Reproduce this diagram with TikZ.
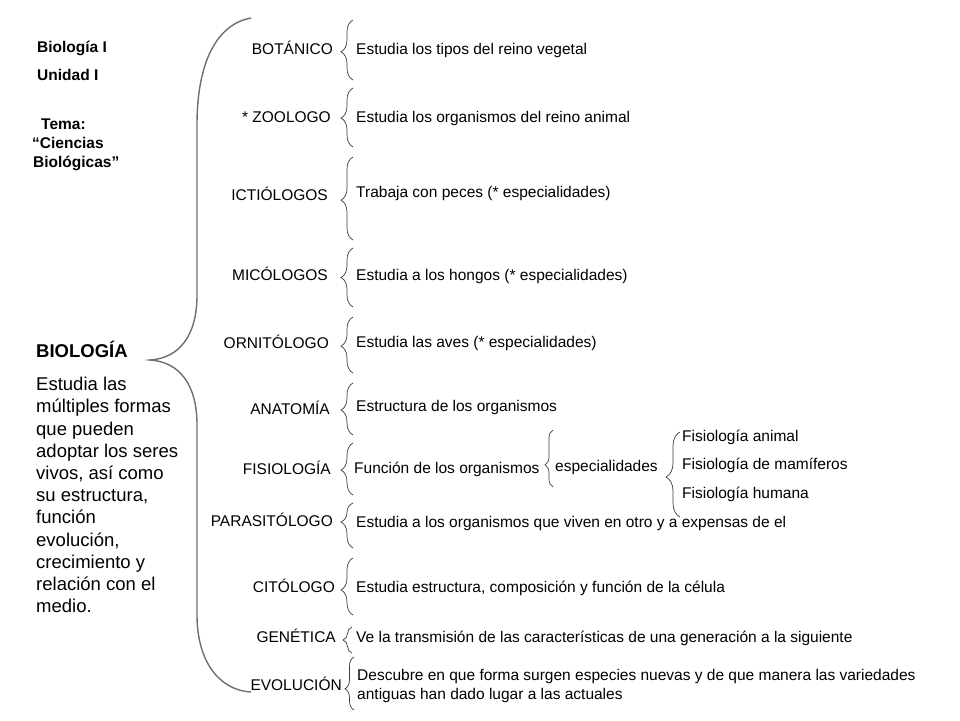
\documentclass[tikz,border=0pt]{standalone}
\usepackage{fontspec}
\setmainfont{Liberation Sans}
\usetikzlibrary{decorations.pathreplacing}
\definecolor{bracegray}{RGB}{110,110,110}
\definecolor{smallbr}{RGB}{60,60,60}
\begin{document}
\begin{tikzpicture}[x=1pt,y=-1pt,
  txt/.style={inner sep=0pt, font=\fontsize{15.5}{18}\selectfont, text height=11pt, text depth=3pt},
  lab/.style={txt, anchor=east},
  desc/.style={txt, anchor=west},
  ttl/.style={inner sep=0pt, anchor=west, font=\fontsize{15.5}{18}\selectfont\bfseries, text height=11pt, text depth=3pt},
  br/.style={draw=smallbr, line width=0.7pt, decorate, decoration={brace, amplitude=#1}},
  br/.default=12pt,
  bigbrace/.style={draw=bracegray, line width=1.4pt}
]
\useasboundingbox (0,0) rectangle (960,720);

% top-left title
\node[ttl] (t1) at (37,48) {Biología I};
\node[ttl] (t2) at (37,76) {Unidad I};
\node[ttl] (t3) at (41,125) {Tema:};
\node[ttl] (t4) at (32,144) {“Ciencias};
\node[ttl] (t5) at (33,163) {Biológicas”};

% BIOLOGIA
\node[inner sep=0pt, anchor=west, font=\fontsize{18.5}{22}\selectfont\bfseries, text height=13pt, text depth=4pt] (bio) at (36,353) {BIOLOGÍA};
\node[inner sep=0pt, anchor=north west, align=left, font=\fontsize{18.5}{22.2}\selectfont] (biotxt) at (36,377)
 {Estudia las\\múltiples formas\\que pueden\\adoptar los seres\\vivos, así como\\su estructura,\\función\\evolución,\\crecimiento y\\relación con el\\medio.};

% big brace
\coordinate (bbtop) at (251,18);
\coordinate (bbtip) at (150,360);
\coordinate (bbbot) at (251,692);
\draw[bigbrace] (bbtop) .. controls (218,24) and (197,60) .. (197,125)
  -- (197,295) .. controls (197,335) and (180,358) .. (bbtip)
  .. controls (180,362) and (197,385) .. (197,425)
  -- (197,615) .. controls (197,660) and (218,690) .. (bbbot);

% labels
\node[lab] (l1) at (333,50) {BOTÁNICO};
\node[lab] (l2) at (331,118) {* ZOOLOGO};
\node[lab] (l3) at (328,196) {ICTIÓLOGOS};
\node[lab] (l4) at (328,276) {MICÓLOGOS};
\node[lab] (l5) at (329,344) {ORNITÓLOGO};
\node[lab] (l6) at (330,410) {ANATOMÍA};
\node[lab] (l7) at (331,470) {FISIOLOGÍA};
\node[lab] (l8) at (333,522) {PARASITÓLOGO};
\node[lab] (l9) at (335,588) {CITÓLOGO};
\node[lab] (l10) at (336,638) {GENÉTICA};
\node[lab] (l11) at (342,686) {EVOLUCIÓN};

% descriptions
\node[desc] (d1) at (356,50) {Estudia los tipos del reino vegetal};
\node[desc] (d2) at (356,118) {Estudia los organismos del reino animal};
\node[desc] (d3) at (356,193) {Trabaja con peces (* especialidades)};
\node[desc] (d4) at (356,276) {Estudia a los hongos (* especialidades)};
\node[desc] (d5) at (356,343) {Estudia las aves (* especialidades)};
\node[desc] (d6) at (356,407) {Estructura de los organismos};
\node[desc] (d7) at (354,469) {Función de los organismos};
\node[desc] (d8) at (356,523) {Estudia a los organismos que viven en otro y a expensas de el};
\node[desc] (d9) at (356,588) {Estudia estructura, composición y función de la célula};
\node[desc] (d10) at (356,638) {Ve la transmisión de las características de una generación a la siguiente};
\node[desc] (d11a) at (357,676) {Descubre en que forma surgen especies nuevas y de que manera las variedades};
\node[desc] (d11b) at (357,695) {antiguas han dado lugar a las actuales};

\node[desc] (esp) at (555,467) {especialidades};
\node[desc] (f1) at (682,437) {Fisiología animal};
\node[desc] (f2) at (682,465) {Fisiología de mamíferos};
\node[desc] (f3) at (682,494) {Fisiología humana};

% small braces (drawn bottom to top so the tip points left)
\coordinate (b1s) at (353,80);  \coordinate (b1e) at (353,20);
\coordinate (b2s) at (353,147); \coordinate (b2e) at (353,88);
\coordinate (b3s) at (353,240); \coordinate (b3e) at (353,157);
\coordinate (b4s) at (353,307); \coordinate (b4e) at (353,248);
\coordinate (b5s) at (353,373); \coordinate (b5e) at (353,317);
\coordinate (b6s) at (353,435); \coordinate (b6e) at (353,383);
\coordinate (b7s) at (353,495); \coordinate (b7e) at (353,443);
\coordinate (b8s) at (353,548); \coordinate (b8e) at (353,503);
\coordinate (b9s) at (353,615); \coordinate (b9e) at (353,558);
\coordinate (b10s) at (352,653); \coordinate (b10e) at (352,627);
\coordinate (b11s) at (354,710); \coordinate (b11e) at (354,657);
\coordinate (bes) at (553,487); \coordinate (bee) at (553,430);
\coordinate (bfs) at (680,517); \coordinate (bfe) at (680,432);

\draw[br, decoration={aspect=0.47}] (b1s) -- (b1e);
\draw[br, decoration={aspect=0.49}] (b2s) -- (b2e);
\draw[br, decoration={aspect=0.48}] (b3s) -- (b3e);
\draw[br, decoration={aspect=0.5}] (b4s) -- (b4e);
\draw[br, decoration={aspect=0.48}] (b5s) -- (b5e);
\draw[br, decoration={aspect=0.48}] (b6s) -- (b6e);
\draw[br, decoration={aspect=0.48}] (b7s) -- (b7e);
\draw[br, decoration={aspect=0.58}] (b8s) -- (b8e);
\draw[br, decoration={aspect=0.44}] (b9s) -- (b9e);
\draw[br=9pt, decoration={aspect=0.5}] (b10s) -- (b10e);
\draw[br=9pt, decoration={aspect=0.4}] (b11s) -- (b11e);
\draw[br=8pt, decoration={aspect=0.39}] (bes) -- (bee);
\draw[br=14pt, decoration={aspect=0.47}] (bfs) -- (bfe);
\end{tikzpicture}
\end{document}
